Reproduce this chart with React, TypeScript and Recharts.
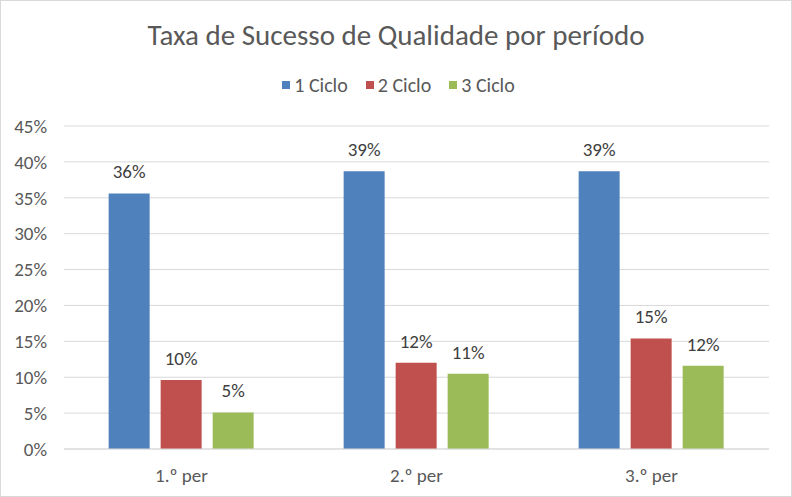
import { BarChart, Bar, XAxis, YAxis, CartesianGrid, Legend, LabelList } from 'recharts';

/* ── Data ── */
const periods = ['1.º per', '2.º per', '3.º per'];
const ciclo1 = [35.6, 38.7, 38.7];
const ciclo2 = [9.6, 12.0, 15.4];
const ciclo3 = [5.1, 10.5, 11.6];
const yTicks = [0, 5, 10, 15, 20, 25, 30, 35, 40, 45];

const data = periods.map((p, i) => ({
  period: p,
  c1: ciclo1[i],
  c2: ciclo2[i],
  c3: ciclo3[i],
}));

const FONT = 'Carlito, Calibri, "Open Sans", sans-serif';
const TEXT = '#595959';
const FS = 19;

const pct = (v: number) => `${Math.round(v)}%`;

/* ── Legend: square swatch + label, Excel style ── */
function ExcelLegend({ payload }: any) {
  return (
    <div style={{ display: 'flex', justifyContent: 'center', height: 20, alignItems: 'center', paddingLeft: 27, fontFamily: FONT, fontSize: 20, color: TEXT }}>
      {(payload || []).map((e: any, i: number) => (
        <div key={i} style={{ display: 'flex', alignItems: 'center', marginLeft: i ? 18 : 0 }}>
          <span style={{ width: 8, height: 8, background: e.color, marginRight: 4, display: 'inline-block' }} />
          <span>{e.value}</span>
        </div>
      ))}
    </div>
  );
}

export default function App() {
  return (
    <div
      style={{
        position: 'absolute', left: 0, top: 0, width: 792, height: 497,
        boxSizing: 'border-box', border: '1px solid #d9d9d9', background: '#fff',
        fontFamily: FONT,
      }}
    >
      <div
        style={{
          position: 'absolute', top: 16, left: 0, width: 790, textAlign: 'center',
          fontSize: 29, color: TEXT, lineHeight: 'normal',
        }}
      >
        Taxa de Sucesso de Qualidade por período
      </div>
      <BarChart
        width={790}
        height={495}
        data={data}
        margin={{ top: 105, right: 22, left: 0, bottom: 17 }}
        barGap={11}
        barCategoryGap="19%"
      >
        <CartesianGrid stroke="#d9d9d9" vertical={false} />
        <XAxis
          dataKey="period"
          axisLine={{ stroke: '#d9d9d9' }}
          tickLine={false}
          tick={{ fill: TEXT, fontSize: FS, fontFamily: FONT }}
          tickMargin={14}
        />
        <YAxis
          width={63}
          domain={[0, 45]}
          ticks={yTicks}
          axisLine={false}
          tickLine={false}
          tick={{ fill: TEXT, fontSize: FS, fontFamily: FONT }}
          tickFormatter={(v) => `${v}%`}
          tickMargin={11}
        />
        <Legend
          verticalAlign="top"
          align="center"
          content={<ExcelLegend />}
          wrapperStyle={{ top: 74 }}
        />
        <Bar dataKey="c1" name="1 Ciclo" fill="#4f81bd" isAnimationActive={false}>
          <LabelList dataKey="c1" position="top" offset={15} formatter={pct} fill="#404040" fontSize={FS} fontFamily={FONT} />
        </Bar>
        <Bar dataKey="c2" name="2 Ciclo" fill="#c0504d" isAnimationActive={false}>
          <LabelList dataKey="c2" position="top" offset={15} formatter={pct} fill="#404040" fontSize={FS} fontFamily={FONT} />
        </Bar>
        <Bar dataKey="c3" name="3 Ciclo" fill="#9bbb59" isAnimationActive={false}>
          <LabelList dataKey="c3" position="top" offset={15} formatter={pct} fill="#404040" fontSize={FS} fontFamily={FONT} />
        </Bar>
      </BarChart>
    </div>
  );
}
